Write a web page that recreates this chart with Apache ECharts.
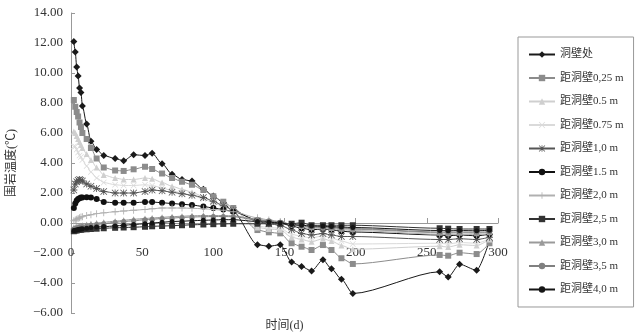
<!DOCTYPE html>
<html>
<head>
<meta charset="utf-8">
<script src="https://cdn.jsdelivr.net/npm/echarts@6/dist/echarts.min.js"></script>
<style>
    html, body { margin: 0; padding: 0; background: #fff; }
    #chart { width: 642px; height: 334px; }
</style>
</head>
<body>
<div id="chart"></div>
<script>
"use strict";
// 时间(d)
const days = [2, 3, 4, 5, 6, 7, 8, 11, 14, 18, 23, 31, 37, 44, 52, 57, 64, 71, 78, 85, 93, 100, 107, 114,
    131, 139, 147, 155, 162, 169, 177, 183, 190, 198, 259, 265, 273, 285, 294];

const seriesNames = ['洞壁处', '距洞壁0,25 m', '距洞壁0.5 m', '距洞壁0.75 m', '距洞壁1,0 m', '距洞壁1.5 m',
    '距洞壁2,0 m', '距洞壁2,5 m', '距洞壁3,0 m', '距洞壁3,5 m', '距洞壁4,0 m'];

const wall = [12.1, 11.4, 10.4, 9.8, 9.0, 8.7, 7.8, 6.6, 5.45, 4.9, 4.5, 4.3, 4.15, 4.55, 4.5, 4.65, 3.95, 3.25, 2.9, 2.8,
    2.25, 1.8, 1.35, 0.75, -1.45, -1.55, -1.45, -2.6, -2.9, -3.2, -2.45, -3.05, -3.75, -4.7, -3.25, -3.6, -2.75, -3.15, -1.2];
const d025 = [8.2, 7.75, 7.4, 7.1, 6.7, 6.4, 6.0, 5.6, 5.0, 4.3, 3.7, 3.5, 3.47, 3.58, 3.75, 3.6, 3.3, 3.0, 2.75, 2.55,
    2.2, 1.78, 1.42, 1.0, -0.47, -0.62, -0.69, -1.35, -1.58, -1.8, -1.47, -1.8, -2.35, -2.73, -2.13, -2.18, -1.98, -2.07, -1.35];
const d05 = [6.1, 6.0, 5.8, 5.6, 5.4, 5.2, 5.0, 4.6, 4.2, 3.7, 3.2, 3.0, 2.9, 2.9, 3.0, 2.95, 2.7, 2.45, 2.25, 2.05,
    1.75, 1.45, 1.15, 0.85, -0.3, -0.4, -0.45, -0.95, -1.1, -1.25, -1.05, -1.2, -1.5, -1.75, -1.55, -1.6, -1.45, -1.5, -1.1];
const d075 = [5.1, 5.1, 4.9, 4.7, 4.5, 4.4, 4.2, 3.8, 3.4, 3.0, 2.7, 2.55, 2.5, 2.5, 2.55, 2.5, 2.35, 2.15, 2.0, 1.85,
    1.6, 1.35, 1.1, 0.85, -0.2, -0.3, -0.35, -0.75, -0.9, -1.0, -0.85, -1.0, -1.2, -1.4, -1.35, -1.4, -1.3, -1.35, -1.05];
const d10 = [2.2, 2.6, 2.75, 2.85, 2.9, 2.85, 2.8, 2.6, 2.45, 2.3, 2.1, 2.0, 2.0, 2.0, 2.1, 2.2, 2.15, 2.05, 1.95, 1.85,
    1.7, 1.45, 1.15, 0.85, 0.1, -0.05, -0.15, -0.45, -0.7, -0.8, -0.7, -0.8, -0.9, -0.9, -1.1, -1.1, -1.05, -1.1, -0.95];
const d15 = [1.0, 1.3, 1.5, 1.6, 1.65, 1.7, 1.7, 1.72, 1.7, 1.6, 1.4, 1.35, 1.35, 1.35, 1.4, 1.4, 1.35, 1.3, 1.25, 1.2,
    1.1, 1.0, 0.9, 0.75, 0.2, 0.1, 0.0, -0.2, -0.35, -0.45, -0.4, -0.45, -0.55, -0.6, -0.8, -0.85, -0.8, -0.85, -0.75];
const d20 = [0.15, 0.2, 0.25, 0.3, 0.35, 0.4, 0.42, 0.5, 0.55, 0.62, 0.68, 0.75, 0.8, 0.85, 0.9, 0.95, 1.0, 1.0, 1.0, 0.98,
    0.95, 0.9, 0.85, 0.75, 0.35, 0.2, 0.1, -0.1, -0.25, -0.35, -0.35, -0.4, -0.45, -0.5, -0.75, -0.78, -0.75, -0.78, -0.7];
const d25 = [-0.55, -0.5, -0.5, -0.45, -0.45, -0.45, -0.42, -0.42, -0.4, -0.38, -0.35, -0.32, -0.3, -0.28, -0.25, -0.22, -0.2, -0.18, -0.15, -0.12,
    -0.1, -0.08, -0.06, -0.05, -0.05, -0.05, -0.05, -0.05, 0.02, -0.15, -0.15, -0.15, -0.15, -0.15, -0.35, -0.38, -0.4, -0.4, -0.4];
const d30 = [-0.3, -0.28, -0.25, -0.22, -0.2, -0.18, -0.15, -0.1, -0.05, 0.0, 0.05, 0.12, 0.18, 0.25, 0.3, 0.33, 0.38, 0.42, 0.45, 0.48,
    0.5, 0.5, 0.5, 0.48, 0.25, 0.15, 0.08, -0.1, -0.2, -0.28, -0.3, -0.33, -0.38, -0.42, -0.65, -0.68, -0.65, -0.68, -0.62];
const d35 = [-0.4, -0.38, -0.35, -0.32, -0.3, -0.28, -0.25, -0.2, -0.15, -0.1, -0.05, 0.05, 0.1, 0.15, 0.22, 0.25, 0.3, 0.33, 0.37, 0.4,
    0.42, 0.43, 0.43, 0.42, 0.2, 0.12, 0.05, -0.1, -0.18, -0.25, -0.28, -0.3, -0.33, -0.38, -0.6, -0.62, -0.6, -0.62, -0.58];
const d40 = [-0.5, -0.48, -0.46, -0.44, -0.42, -0.4, -0.38, -0.35, -0.3, -0.27, -0.24, -0.2, -0.15, -0.1, -0.05, 0.0, 0.05, 0.1, 0.12, 0.15,
    0.18, 0.2, 0.22, 0.22, 0.1, 0.05, 0.0, -0.1, -0.15, -0.2, -0.22, -0.24, -0.27, -0.3, -0.5, -0.52, -0.5, -0.52, -0.48];

const seriesValues = [wall, d025, d05, d075, d10, d15, d20, d25, d30, d35, d40];

// 标记形状
const plusPath = 'path://M4.4,0H5.6V4.4H10V5.6H5.6V10H4.4V5.6H0V4.4H4.4Z';
const crossPath = 'path://M0.8,0L5,4.2L9.2,0L10,0.8L5.8,5L10,9.2L9.2,10L5,5.8L0.8,10L0,9.2L4.2,5L0,0.8Z';
const starPath = 'path://M4.4,0H5.6V10H4.4Z M0,4.4H10V5.6H0Z M0.8,0L10,9.2L9.2,10L0,0.8Z M9.2,0L10,0.8L0.8,10L0,9.2Z';

const looks = [
    {color: '#1a1a1a', symbol: 'diamond', size: 7},
    {color: '#8c8c8c', symbol: 'rect', size: 6},
    {color: '#cfcfcf', symbol: 'triangle', size: 6},
    {color: '#dadada', symbol: crossPath, size: 6},
    {color: '#555555', symbol: starPath, size: 7},
    {color: '#111111', symbol: 'circle', size: 6},
    {color: '#b0b0b0', symbol: plusPath, size: 7},
    {color: '#333333', symbol: 'rect', size: 6},
    {color: '#9a9a9a', symbol: 'triangle', size: 6},
    {color: '#808080', symbol: 'circle', size: 5},
    {color: '#151515', symbol: 'circle', size: 5}
];

const serif = '"Liberation Serif", "Noto Sans CJK SC", serif';

let chart = echarts.init(document.getElementById('chart'));
let option = {
    backgroundColor: '#fff',
    animation: false,
    textStyle: {fontFamily: serif},
    grid: {left: 71, right: 144, top: 13, bottom: 21, containLabel: false, outerBoundsMode: 'none'},
    legend: {
        orient: 'vertical',
        left: 518,
        top: 37,
        padding: [12, 10, 12, 10],
        itemGap: 12.5,
        itemWidth: 26,
        itemHeight: 8,
        borderColor: '#999',
        borderWidth: 1,
        textStyle: {fontFamily: serif, fontSize: 11, color: '#333'},
        data: seriesNames
    },
    xAxis: {
        type: 'value',
        min: 0,
        max: 300,
        interval: 50,
        name: '时间(d)',
        nameLocation: 'middle',
        nameGap: 7,
        nameMoveOverlap: false,
        nameTextStyle: {fontFamily: serif, fontSize: 12, color: '#333'},
        axisLine: {onZero: true, lineStyle: {color: '#999'}},
        axisTick: {inside: true, length: 5, lineStyle: {color: '#999'}},
        axisLabel: {margin: -67, fontSize: 13, color: '#333', fontFamily: serif},
        splitLine: {show: false}
    },
    yAxis: {
        type: 'value',
        min: -6,
        max: 14,
        interval: 2,
        name: '围岩温度(℃)',
        nameLocation: 'middle',
        nameGap: 53,
        nameRotate: 90,
        nameTextStyle: {fontFamily: serif, fontSize: 12, color: '#333'},
        axisLine: {show: true, lineStyle: {color: '#999'}},
        axisTick: {show: true, inside: true, length: 4, lineStyle: {color: '#999'}},
        axisLabel: {
            fontSize: 13, color: '#333', fontFamily: serif, margin: 8,
            formatter: v => v.toFixed(2).replace('-', '\u2212')
        },
        splitLine: {show: false}
    },
    series: seriesNames.map((name, i) => ({
        name: name,
        type: 'line',
        data: days.map((d, j) => [d, seriesValues[i][j]]),
        smooth: 0.25,
        smoothMonotone: 'x',
        symbol: looks[i].symbol,
        symbolSize: looks[i].size,
        showAllSymbol: true,
        itemStyle: {color: looks[i].color},
        lineStyle: {color: looks[i].color, width: 1}
    }))
};
chart.setOption(option);
</script>
</body>
</html>
